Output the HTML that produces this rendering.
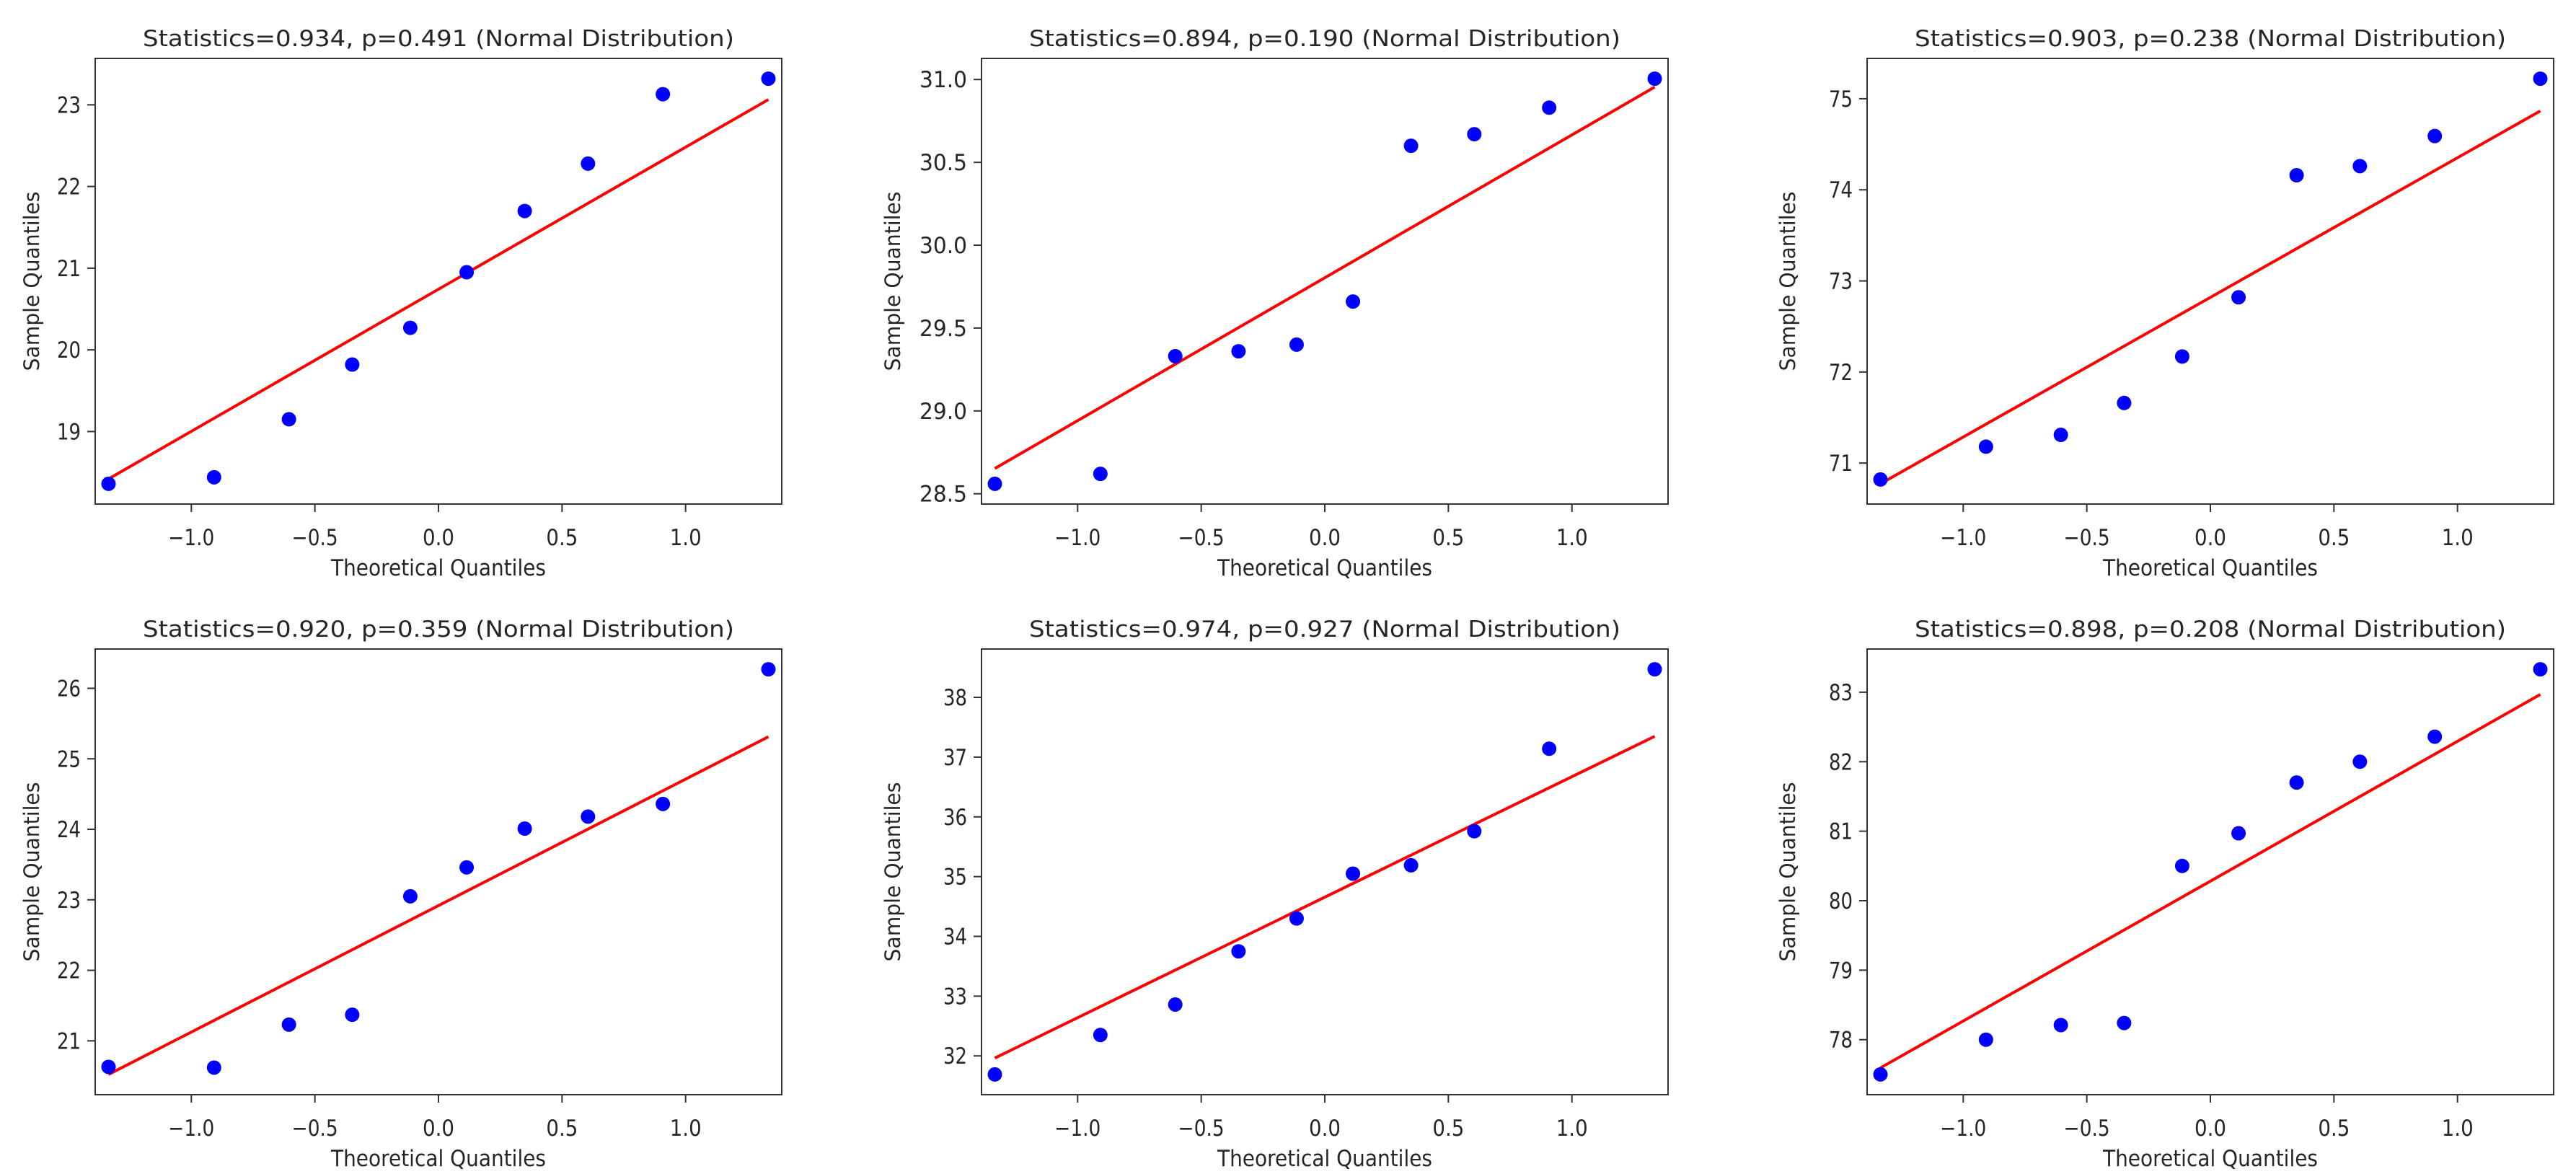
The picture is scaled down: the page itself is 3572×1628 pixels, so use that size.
<!DOCTYPE html>
<html><head><meta charset="utf-8"><style>
html,body{margin:0;padding:0;background:#fff;}
svg{display:block;}
text{font-family:"DejaVu Sans","Liberation Sans",sans-serif;fill:#262626;}
</style></head><body>
<svg id="fig" width="3572" height="1628" viewBox="0 0 3572 1628" xmlns="http://www.w3.org/2000/svg"></svg>
<script>
// Theoretical quantiles (shared x values)
const theoretical = [-1.335, -0.908, -0.605, -0.349, -0.114, 0.114, 0.349, 0.605, 0.908, 1.335];
// Sample quantiles per panel
const sample1 = [18.36, 18.44, 19.15, 19.82, 20.27, 20.95, 21.70, 22.28, 23.13, 23.32];
const sample2 = [28.56, 28.62, 29.33, 29.36, 29.40, 29.66, 30.60, 30.67, 30.83, 31.005];
const sample3 = [70.82, 71.18, 71.31, 71.66, 72.17, 72.82, 74.16, 74.26, 74.59, 75.22];
const sample4 = [20.63, 20.62, 21.23, 21.37, 23.05, 23.46, 24.01, 24.18, 24.36, 26.27];
const sample5 = [31.69, 32.35, 32.86, 33.75, 34.30, 35.05, 35.19, 35.76, 37.14, 38.47];
const sample6 = [77.50, 78.00, 78.21, 78.24, 80.50, 80.97, 81.70, 82.00, 82.36, 83.33];
// Titles
const titles = [
 "Statistics=0.934, p=0.491 (Normal Distribution)",
 "Statistics=0.894, p=0.190 (Normal Distribution)",
 "Statistics=0.903, p=0.238 (Normal Distribution)",
 "Statistics=0.920, p=0.359 (Normal Distribution)",
 "Statistics=0.974, p=0.927 (Normal Distribution)",
 "Statistics=0.898, p=0.208 (Normal Distribution)"];
// Tick labels
const xTicks = [-1.0, -0.5, 0.0, 0.5, 1.0];
const xTickLabels = ["\u22121.0", "\u22120.5", "0.0", "0.5", "1.0"];
const yTicks1 = [19, 20, 21, 22, 23];
const yTicks2 = [28.5, 29.0, 29.5, 30.0, 30.5, 31.0];
const yTicks3 = [71, 72, 73, 74, 75];
const yTicks4 = [21, 22, 23, 24, 25, 26];
const yTicks5 = [32, 33, 34, 35, 36, 37, 38];
const yTicks6 = [78, 79, 80, 81, 82, 83];
const yTickDecimals = [0, 1, 0, 0, 0, 0];

const samples = [sample1, sample2, sample3, sample4, sample5, sample6];
const yTicksAll = [yTicks1, yTicks2, yTicks3, yTicks4, yTicks5, yTicks6];

const NS = "http://www.w3.org/2000/svg";
const svg = document.getElementById("fig");
function mk(tag, attrs, parent) {
  const e = document.createElementNS(NS, tag);
  for (const k in attrs) e.setAttribute(k, attrs[k]);
  parent.appendChild(e);
  return e;
}
const colX = [132, 1361, 2589];
const rowY = [81, 900];
const W = 952, H = 618;
const xMin = -1.389, xMax = 1.389;

for (let p = 0; p < 6; p++) {
  const data = samples[p];
  const L = colX[p % 3], T = rowY[Math.floor(p / 3)];
  const n = data.length;
  const mean = data.reduce((a, b) => a + b, 0) / n;
  const sd = Math.sqrt(data.reduce((a, b) => a + (b - mean) ** 2, 0) / n);
  const lineY0 = mean + sd * theoretical[0];
  const lineY1 = mean + sd * theoretical[n - 1];
  const lo = Math.min(...data, lineY0), hi = Math.max(...data, lineY1);
  const yMin = lo - 0.05 * (hi - lo), yMax = hi + 0.05 * (hi - lo);
  const sx = v => L + (v - xMin) / (xMax - xMin) * W;
  const sy = v => T + H - (v - yMin) / (yMax - yMin) * H;

  const g = mk("g", {}, svg);
  
  

  const title = mk("text", {x: L + W / 2, y: T - 17, "text-anchor": "middle", "font-size": 31, textLength: 820, lengthAdjust: "spacingAndGlyphs"}, g);
  title.textContent = titles[p];
  
  

  // x ticks
  xTicks.forEach((t, i) => {
    const x = sx(t);
    const tk = mk("line", {x1: x, x2: x, y1: T + H, y2: T + H + 11, stroke: "#333", "stroke-width": 2}, g);
    
    
    const lb = mk("text", {x: x, y: T + H + 57, "text-anchor": "middle", "font-size": 31, textLength: (t < 0 ? 64 : 44), lengthAdjust: "spacingAndGlyphs"}, g);
    lb.textContent = xTickLabels[i];
    
    
  });
  // y ticks
  yTicksAll[p].forEach(t => {
    const y = sy(t);
    const tk = mk("line", {x1: L - 11, x2: L, y1: y, y2: y, stroke: "#333", "stroke-width": 2}, g);
    
    
    const s = t.toFixed(yTickDecimals[p]);
    const lb = mk("text", {x: L - 20, y: y + 11, "text-anchor": "end", "font-size": 31, textLength: s.length * 16.5, lengthAdjust: "spacingAndGlyphs"}, g);
    lb.textContent = s;
    
    
  });
  // axis labels
  const xl = mk("text", {x: L + W / 2, y: T + H + 99, "text-anchor": "middle", "font-size": 31, textLength: 298, lengthAdjust: "spacingAndGlyphs"}, g);
  xl.textContent = "Theoretical Quantiles";
  
  
  const ylx = L - (p % 3 === 0 ? 78 : (p % 3 === 1 ? 113 : 100));
  const yl = mk("text", {x: ylx, y: T + H / 2, "text-anchor": "middle", "font-size": 29, transform: `rotate(-90 ${ylx} ${T + H / 2})`, textLength: 249, lengthAdjust: "spacingAndGlyphs"}, g);
  yl.textContent = "Sample Quantiles";
  
  

  // fit line
  const ln = mk("line", {x1: sx(theoretical[0]), y1: sy(lineY0), x2: sx(theoretical[n - 1]), y2: sy(lineY1), stroke: "#ff0000", "stroke-width": 4}, g);
  
  
  // points
  data.forEach((v, i) => {
    const c = mk("circle", {cx: sx(theoretical[i]), cy: sy(v), r: 10, fill: "#0000ff"}, g);
    
    
  });
  // frame
  const fr = mk("rect", {x: L, y: T, width: W, height: H, fill: "none", stroke: "#333", "stroke-width": 2}, g);
  
  
}
</script>
</body></html>
